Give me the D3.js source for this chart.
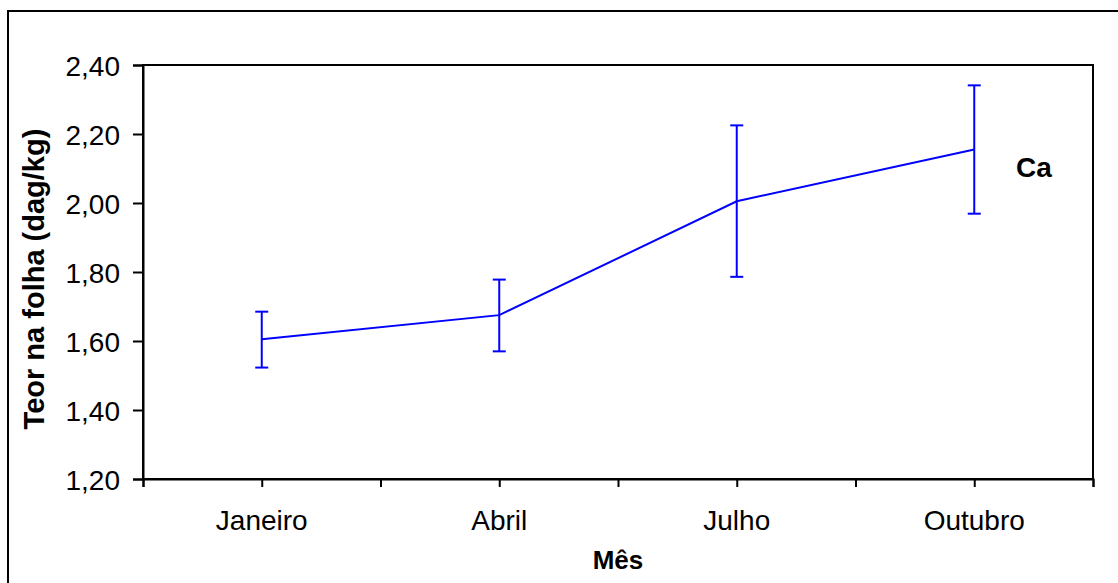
<!DOCTYPE html>
<html>
<head>
<meta charset="utf-8">
<script src="https://cdn.jsdelivr.net/npm/d3@7"></script>
<style>
  html, body { margin: 0; padding: 0; background: #fff; }
  svg { display: block; }
  text { font-family: "Liberation Sans", Arial, sans-serif; fill: #000; }
</style>
</head>
<body>
<svg id="chart" width="1118" height="583"></svg>
<script>
const categories = ["Janeiro", "Abril", "Julho", "Outubro"];
const means = [1.605, 1.675, 2.005, 2.155];
const upper = [1.685, 1.778, 2.225, 2.341];
const lower = [1.523, 1.570, 1.786, 1.969];
const yTicks = [1.20, 1.40, 1.60, 1.80, 2.00, 2.20, 2.40];
const seriesLabel = "Ca";
const xTitle = "Mês";
const yTitle = "Teor na folha (dag/kg)";

const svg = d3.select("#chart");
const L = 143, R = 1093, T = 65, B = 479;

// outer frame
svg.append("rect").attr("x", 8).attr("y", 11).attr("width", 1130).attr("height", 600)
  .attr("fill", "none").attr("stroke", "#000").attr("stroke-width", 2);

const x = d3.scalePoint().domain(categories).range([L, R]).padding(0.5);
const xLin = d3.scaleLinear().domain([0, 8]).range([L, R]);
const y = d3.scaleLinear().domain([1.2, 2.4]).range([B, T]);

// plot box
svg.append("rect").attr("x", L).attr("y", T).attr("width", R - L).attr("height", B - T)
  .attr("fill", "none").attr("stroke", "#000").attr("stroke-width", 2);

// y axis
const yAxis = d3.axisLeft(y).tickValues(yTicks).tickSize(10).tickPadding(13)
  .tickFormat(d => d3.format(".2f")(d).replace(".", ","));
const gy = svg.append("g").attr("transform", `translate(${L},0)`).call(yAxis);
gy.select(".domain").attr("stroke", "#000").attr("stroke-width", 2);
gy.selectAll(".tick line").attr("stroke", "#000").attr("stroke-width", 2);
gy.selectAll(".tick text").attr("font-size", 28).attr("font-family", "Liberation Sans, Arial, sans-serif").attr("dy", "0.36em");

// x axis: ticks at category centers and boundaries
const xAxis = d3.axisBottom(xLin).tickValues(d3.range(0, 9)).tickSize(8).tickFormat("");
const gx = svg.append("g").attr("transform", `translate(0,${B})`).call(xAxis);
gx.select(".domain").attr("stroke", "#000").attr("stroke-width", 2);
gx.selectAll(".tick line").attr("stroke", "#000").attr("stroke-width", 2);

// x category labels
svg.append("g").selectAll("text").data(categories).join("text")
  .attr("x", d => x(d)).attr("y", 530).attr("text-anchor", "middle")
  .attr("font-size", 28).text(d => d);

// line
const line = d3.line().x((d, i) => x(categories[i])).y(d => y(d));
svg.append("path").datum(means).attr("d", line)
  .attr("fill", "none").attr("stroke", "#0000FF").attr("stroke-width", 2);

// error bars
const eb = svg.append("g").attr("stroke", "#0000FF").attr("stroke-width", 2);
categories.forEach((c, i) => {
  const cx = x(c);
  eb.append("line").attr("x1", cx).attr("x2", cx).attr("y1", y(upper[i])).attr("y2", y(lower[i]));
  eb.append("line").attr("x1", cx - 6.5).attr("x2", cx + 6.5).attr("y1", y(upper[i])).attr("y2", y(upper[i]));
  eb.append("line").attr("x1", cx - 6.5).attr("x2", cx + 6.5).attr("y1", y(lower[i])).attr("y2", y(lower[i]));
});

// series label
svg.append("text").attr("x", 1016).attr("y", 177).attr("font-size", 28).attr("font-weight", "bold").text(seriesLabel);

// titles
svg.append("text").attr("x", 618).attr("y", 569).attr("text-anchor", "middle")
  .attr("font-size", 26).attr("font-weight", "bold").text(xTitle);
svg.append("text").attr("transform", "translate(44,279) rotate(-90)").attr("text-anchor", "middle")
  .attr("font-size", 29).attr("font-weight", "bold").text(yTitle);
</script>
</body>
</html>
